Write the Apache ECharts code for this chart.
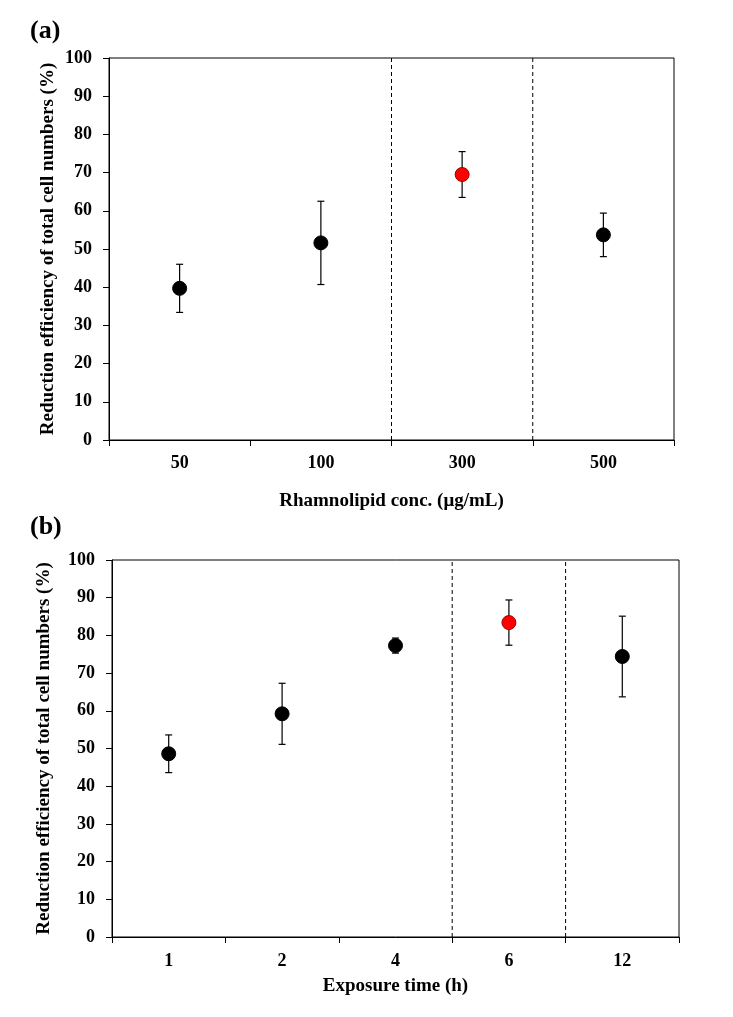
<!DOCTYPE html>
<html><head><meta charset="utf-8">
<script src="https://cdn.jsdelivr.net/npm/echarts@6/dist/echarts.min.js"></script>
<style>html,body{margin:0;padding:0;background:#fff}#c{width:733px;height:1017px}</style>
</head><body><div id="c"></div>
<script>
// Panel (a)
const catsA = ['50', '100', '300', '500'];
const valsA = [39.7, 51.6, 69.5, 53.7];
const errA = [6.3, 10.9, 6.0, 5.7];
const highlightA = 2;
const dashedAfterA = [1, 2];
// Panel (b)
const catsB = ['1', '2', '4', '6', '12'];
const valsB = [48.6, 59.2, 77.3, 83.4, 74.4];
const errB = [5.0, 8.1, 2.0, 6.0, 10.7];
const highlightB = 3;
const dashedAfterB = [2, 3];
const yTicks = [0, 10, 20, 30, 40, 50, 60, 70, 80, 90, 100];

const FONT = 'Liberation Serif';
const FS = 18;
const TFS = 19;
const chart = echarts.init(document.getElementById('c'), null, {renderer: 'canvas'});

function xAxisDef(gridIndex, cats, name, nameGap, margin) {
  return {
    type: 'category', gridIndex, data: cats, boundaryGap: true,
    name, nameLocation: 'middle', nameGap, nameMoveOverlap: false,
    nameTextStyle: {fontFamily: FONT, fontWeight: 'bold', fontSize: TFS, color: '#000'},
    axisLine: {show: true, lineStyle: {color: '#000', width: 1}},
    axisTick: {show: true, inside: false, length: 6, alignWithLabel: false, lineStyle: {color: '#000'}},
    axisLabel: {fontFamily: FONT, fontWeight: 'bold', fontSize: FS, color: '#000', margin},
    splitLine: {show: false}
  };
}
function yAxisDef(gridIndex, nameGap) {
  return {
    type: 'value', gridIndex, min: yTicks[0], max: yTicks[yTicks.length - 1], interval: 10,
    name: 'Reduction efficiency of total cell numbers (%)', nameLocation: 'middle', nameGap, nameMoveOverlap: false,
    nameTextStyle: {fontFamily: FONT, fontWeight: 'bold', fontSize: TFS, color: '#000'},
    axisLine: {show: true, lineStyle: {color: '#000', width: 1}},
    axisTick: {show: true, inside: false, length: 6, lineStyle: {color: '#000'}},
    axisLabel: {fontFamily: FONT, fontWeight: 'bold', fontSize: FS, color: '#000', margin: 17},
    splitLine: {show: false}
  };
}
function errSeries(idx, vals, errs) {
  return {
    type: 'custom', xAxisIndex: idx, yAxisIndex: idx, z: 2, silent: true,
    data: vals.map((v, i) => [i, v - errs[i], v + errs[i]]),
    renderItem: function (params, api) {
      const lo = api.coord([api.value(0), api.value(1)]);
      const hi = api.coord([api.value(0), api.value(2)]);
      const hw = 3.5;
      const st = {stroke: '#000', lineWidth: 1.2};
      return {type: 'group', children: [
        {type: 'line', shape: {x1: lo[0], y1: lo[1], x2: hi[0], y2: hi[1]}, style: st},
        {type: 'line', shape: {x1: lo[0] - hw, y1: lo[1], x2: lo[0] + hw, y2: lo[1]}, style: st},
        {type: 'line', shape: {x1: hi[0] - hw, y1: hi[1], x2: hi[0] + hw, y2: hi[1]}, style: st}
      ]};
    }
  };
}
function dashSeries(idx, after) {
  return {
    type: 'custom', xAxisIndex: idx, yAxisIndex: idx, z: 1, silent: true,
    data: after.map(a => [a]),
    renderItem: function (params, api) {
      const bw = api.size([1, 0])[0];
      const b = api.coord([api.value(0), 0]);
      const t = api.coord([api.value(0), 100]);
      const x = b[0] + bw / 2;
      return {type: 'line', shape: {x1: x, y1: b[1], x2: x, y2: t[1]},
        style: {stroke: '#000', lineWidth: 1, lineDash: [4, 3]}};
    }
  };
}
function ptSeries(idx, vals, hl) {
  return {
    type: 'scatter', xAxisIndex: idx, yAxisIndex: idx, z: 3, symbol: 'circle', symbolSize: 14,
    data: vals.map((v, i) => ({value: [i, v], itemStyle: i === hl ?
      {color: '#ff0000', borderColor: '#a00000', borderWidth: 1, opacity: 1} :
      {color: '#000', borderColor: '#000', borderWidth: 1, opacity: 1}})),
    emphasis: {disabled: true}
  };
}

chart.setOption({
  animation: false,
  backgroundColor: '#fff',
  title: [
    {text: '(a)', left: 25, top: 13, textStyle: {fontFamily: FONT, fontWeight: 'bold', fontSize: 26, color: '#000'}},
    {text: '(b)', left: 25, top: 509, textStyle: {fontFamily: FONT, fontWeight: 'bold', fontSize: 26, color: '#000'}}
  ],
  grid: [
    {left: 109, top: 58, width: 565, height: 382, show: true, borderColor: '#000', borderWidth: 1, backgroundColor: 'transparent'},
    {left: 112, top: 560, width: 567, height: 377, show: true, borderColor: '#000', borderWidth: 1, backgroundColor: 'transparent'}
  ],
  xAxis: [
    xAxisDef(0, catsA, 'Rhamnolipid conc. (\u03bcg/mL)', 52, 14),
    xAxisDef(1, catsB, 'Exposure time (h)', 40, 15)
  ],
  yAxis: [yAxisDef(0, 51), yAxisDef(1, 58)],
  series: [
    dashSeries(0, dashedAfterA), errSeries(0, valsA, errA), ptSeries(0, valsA, highlightA),
    dashSeries(1, dashedAfterB), errSeries(1, valsB, errB), ptSeries(1, valsB, highlightB)
  ]
});
</script></body></html>
